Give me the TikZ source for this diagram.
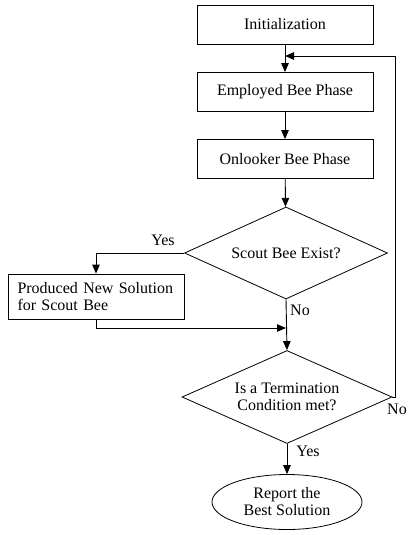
\documentclass[tikz,border=0pt]{standalone}
\usepackage{fontspec}
\setmainfont{Liberation Serif}
\usetikzlibrary{shapes.geometric,arrows.meta}
\begin{document}
\begin{tikzpicture}[x=1pt,y=-1pt,
  txt/.style={font=\fontsize{16}{17}\selectfont},
  box/.style={txt,draw,line width=0.8pt,minimum width=176pt,minimum height=39pt,inner sep=0pt},
  dec/.style={txt,draw,line width=0.8pt,diamond,aspect=2.2,inner sep=0pt,align=center},
  arr/.style={line width=0.9pt,-{Triangle[length=9pt,width=7.5pt]}},
  lab/.style={txt}]
\useasboundingbox (0,0) rectangle (408,535);
\node[box] (init) at (285,24.5) {Initialization};
\node[box] (emp) at (285,92) {Employed Bee Phase};
\node[box] (onl) at (285,159) {Onlooker Bee Phase};
\node[dec,minimum width=203pt,minimum height=92pt] (scout) at (286,253) {Scout Bee Exist?};
\node[box,minimum width=176pt,minimum height=45pt,align=left,text width=157pt] (prod) at (96,296.5) {Produced New Solution\\for Scout Bee};
\node[dec,minimum width=210pt,minimum height=93pt] (term) at (287,397) {Is a Termination\\Condition met?};
\node[txt,draw,line width=0.8pt,ellipse,minimum width=150pt,minimum height=55pt,inner sep=0pt,align=center] (rep) at (287,502) {Report the\\Best Solution};
\coordinate (loop) at (285,56);
\coordinate (join) at (286,328);
\draw[arr] (init) -- (emp);
\draw[arr] (emp) -- (onl);
\draw[arr] (onl) -- (scout);
\draw[arr] (scout.west) -| (prod.north);
\draw[arr] (prod.south) |- (join);
\draw[arr] (scout.south) -- (term.north);
\draw[arr] (term.east) -- ++(3,0) |- (loop);
\draw[arr] (term.south) -- (rep.north);
\node[lab] (y1) at (163,240) {Yes};
\node[lab] (n1) at (300,310) {No};
\node[lab] (n2) at (397,409) {No};
\node[lab] (y2) at (308,451) {Yes};
\end{tikzpicture}
\end{document}
